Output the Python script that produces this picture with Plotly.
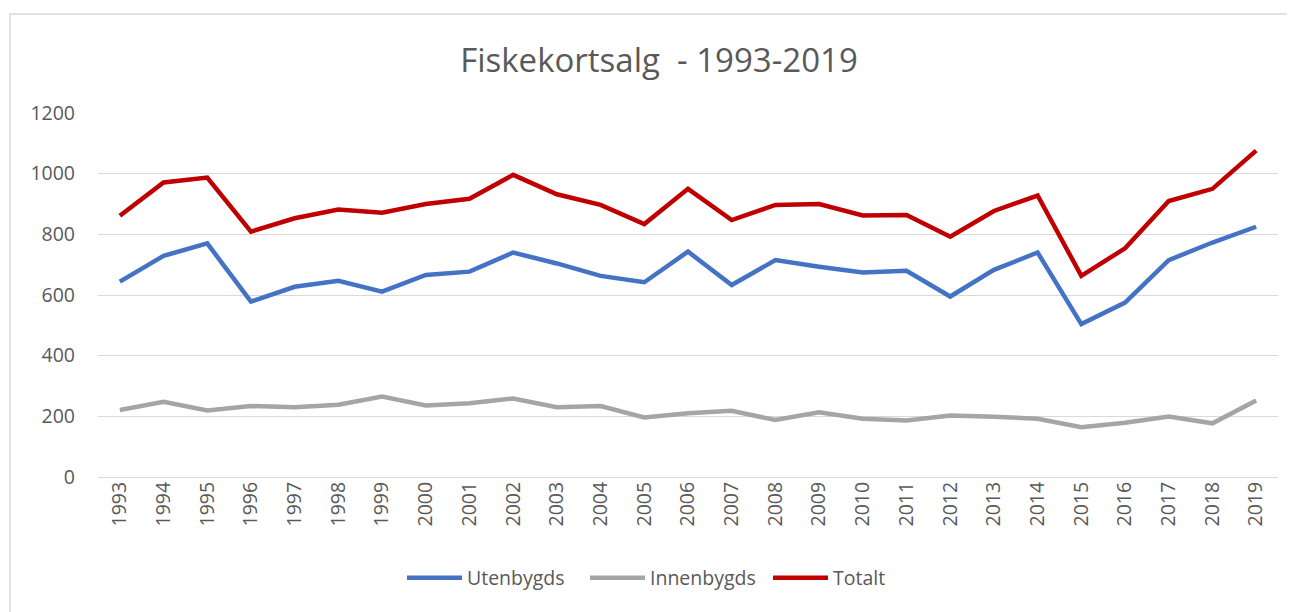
import plotly.graph_objects as go

years = [str(y) for y in range(1993, 2020)]
utenbygds = [644, 729, 770, 578, 627, 647, 611, 666, 677, 740, 704, 663, 642, 743, 633, 715,
             693, 674, 680, 595, 683, 740, 504, 575, 715, 773, 825]
innenbygds = [221, 248, 219, 234, 230, 238, 265, 236, 243, 259, 230, 234, 196, 210, 218, 188,
              213, 192, 186, 203, 199, 192, 164, 179, 199, 177, 252]
totalt = [861, 971, 987, 809, 853, 882, 871, 900, 917, 996, 932, 897, 834, 950, 847, 897,
          900, 862, 864, 792, 877, 928, 663, 754, 910, 950, 1076]
y_ticks = [0, 200, 400, 600, 800, 1000, 1200]

FONT = "Open Sans"
TXT = "#595959"
OFF = 8  # page body margin

W, H = 1295 - OFF, 612 - OFF
L, R_ = 98 - OFF, 1278 - OFF
T, B = 113 - OFF, 477 - OFF
PW, PH = R_ - L, B - T

def px(x):
    return (x - OFF - L) / PW

def py(y):
    return (B - (y - OFF)) / PH

fig = go.Figure()
for name, vals, col in [("Utenbygds", utenbygds, "#4472C4"),
                        ("Innenbygds", innenbygds, "#A5A5A5"),
                        ("Totalt", totalt, "#C00000")]:
    fig.add_trace(go.Scatter(x=years, y=vals, name=name, mode="lines",
                             line=dict(color=col, width=4.5)))

fig.update_layout(
    width=W, height=H,
    margin=dict(l=L, r=W - R_, t=T, b=H - B),
    paper_bgcolor="white", plot_bgcolor="white",
    font=dict(family=FONT, color=TXT, size=19),
    title=dict(text="Fiskekortsalg  - 1993-2019", x=(659 - OFF)/W, xanchor="center",
               y=1 - (60 - OFF)/H, yanchor="middle",
               font=dict(family=FONT, size=33, color=TXT)),
    xaxis=dict(type="category", tickangle=-90, showgrid=False, showline=False,
               ticks="", tickfont=dict(size=19.5, color=TXT), range=[-0.5, 26.5]),
    yaxis=dict(range=[0, 1200], tickvals=y_ticks, showgrid=True, gridcolor="#d9d9d9",
               gridwidth=1.3, zeroline=True, zerolinecolor="#d9d9d9", zerolinewidth=1.3,
               showline=False, ticks="", ticklabelstandoff=22,
               tickfont=dict(size=19.5, color=TXT)),
    legend=dict(orientation="h", x=px(402), xanchor="left",
                y=py(578), yanchor="middle", entrywidth=113, entrywidthmode="pixels",
                font=dict(size=19.5, color=TXT), itemwidth=55, tracegroupgap=0),
    showlegend=True,
)

fig.add_shape(type="rect", xref="paper", yref="paper",
              x0=px(10), x1=px(1320),
              y0=py(650), y1=py(14),
              line=dict(color="#d9d9d9", width=1.5), fillcolor="rgba(0,0,0,0)", layer="below")

fig.write_html("out.html")
